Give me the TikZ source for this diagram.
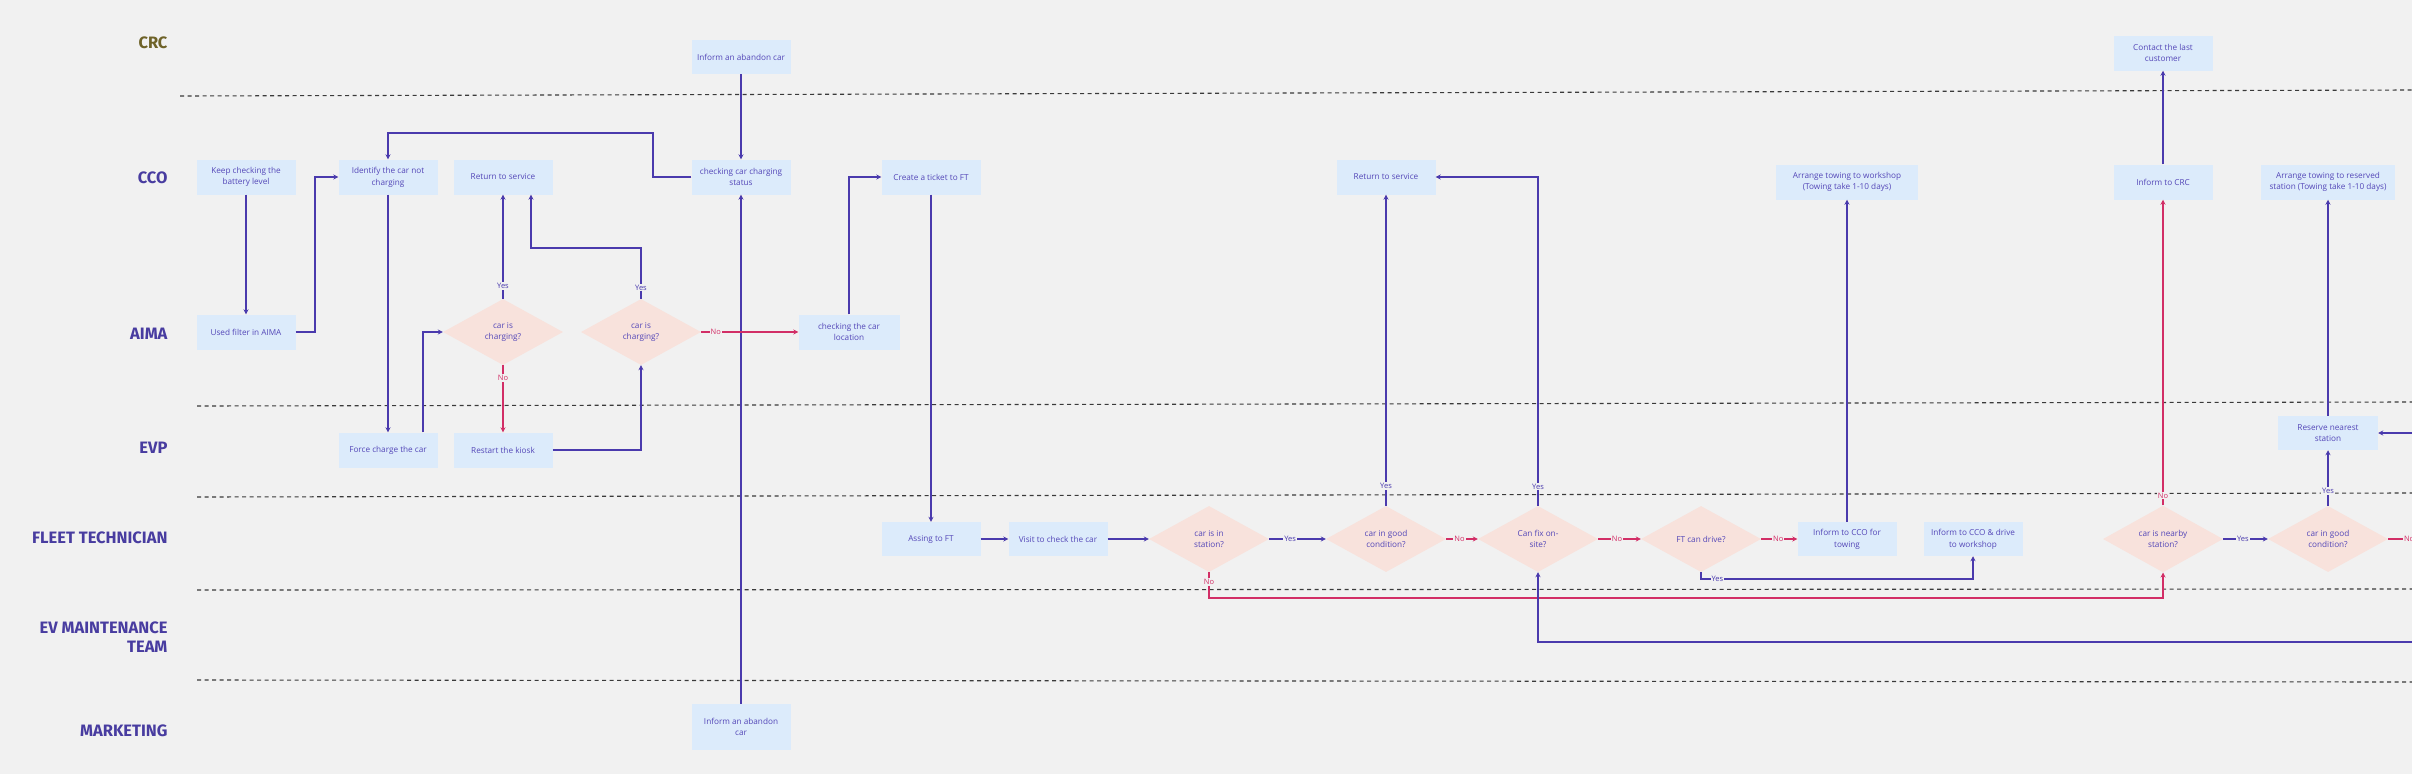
\documentclass[tikz,border=0pt]{standalone}
\usepackage{fontspec}
\setmainfont{Open Sans}
\newfontfamily\lanefont{Fira Sans}
\usetikzlibrary{shapes.geometric,arrows.meta}
\definecolor{bgc}{HTML}{F1F1F1}
\definecolor{boxfill}{HTML}{DCEBFB}
\definecolor{diafill}{HTML}{F8E2DC}
\definecolor{txtc}{HTML}{5447B8}
\definecolor{lc}{HTML}{4A3AAD}
\definecolor{rc}{HTML}{D22E66}
\definecolor{lanec}{HTML}{483CA0}
\definecolor{crcc}{HTML}{6E6228}
\definecolor{dashc}{HTML}{3A3A3A}
\newcommand\bxfont{\fontsize{8.2}{11.7}\selectfont}
\newcommand\edgefont{\fontsize{7.5}{8.5}\selectfont}
\begin{document}
\begin{tikzpicture}[x=1pt,y=-1pt,
  box/.style={fill=boxfill, text=txtc, align=center, inner sep=0pt, minimum width=99pt, minimum height=35pt, font=\bxfont},
  dia/.style={shape=diamond, fill=diafill, text=txtc, align=center, inner sep=0pt, minimum width=120pt, minimum height=66pt, font=\bxfont},
  arr/.style={draw=lc, line width=1.3pt, -{Stealth[length=5pt,width=5pt]}},
  tharr/.style={arr, line width=1.8pt},
  rarr/.style={arr, draw=rc},
  lbl/.style={fill=bgc, inner sep=1pt, text=lc, font=\edgefont},
  rlbl/.style={lbl, text=rc},
  lane/.style={anchor=east, text=lanec, font=\lanefont\bfseries\fontsize{16.5}{19}\selectfont, align=right},
  lanesep/.style={draw=dashc, line width=1.1pt, dash pattern=on 4pt off 3.5pt}]
\fill[bgc] (0,0) rectangle (2412,774);
\useasboundingbox (0,0) rectangle (2412,774);

% lane separators
\draw[lanesep] (180,96) -- (2412,90);
\draw[lanesep] (197,406) -- (2412,402);
\draw[lanesep] (197,497) -- (2412,493);
\draw[lanesep] (197,590) -- (2412,589);
\draw[lanesep] (197,680) -- (2412,682);

% lane labels
\node[lane, text=crcc] (lcrc) at (171,43) {CRC};
\node[lane] (lcco) at (171,178) {CCO};
\node[lane] (laima) at (171,334) {AIMA};
\node[lane] (levp) at (171,448) {EVP};
\node[lane] (lft) at (171,538) {FLEET TECHNICIAN};
\node[lane] (lev) at (171,637) {EV MAINTENANCE\\TEAM};
\node[lane] (lmkt) at (171,731) {MARKETING};

% nodes
\node[box, minimum height=34pt] (crcinf) at (741,57) {Inform an abandon car};
\node[box] (keep) at (246,177) {Keep checking the\\battery level};
\node[box] (ident) at (388,177) {Identify the car not\\charging};
\node[box] (ret1) at (503,177) {Return to service};
\node[box] (chkst) at (741,177) {checking car charging\\status};
\node[box] (used) at (246,332) {Used filter in AIMA};
\node[dia] (d1) at (503,332) {car is\\charging?};
\node[dia] (d2) at (641,332) {car is\\charging?};
\node[box] (force) at (388,450) {Force charge the car};
\node[box] (restart) at (503,450) {Restart the kiosk};
\node[box, minimum width=101pt] (loc) at (849,332) {checking the car\\location};
\node[box] (create) at (931,177) {Create a ticket to FT};
\node[box] (ret2) at (1386,177) {Return to service};
\node[box, minimum height=34pt] (assign) at (931,539) {Assing to FT};
\node[box, minimum height=34pt] (visit) at (1058,539) {Visit to check the car};
\node[dia] (dst) at (1209,539) {car is in\\station?};
\node[dia] (dgood) at (1386,539) {car in good\\condition?};
\node[dia] (dfix) at (1538,539) {Can fix on-\\site?};
\node[dia] (ddrive) at (1701,539) {FT can drive?};
\node[box, minimum height=34pt] (tow) at (1847,539) {Inform to CCO for\\towing};
\node[box, minimum height=34pt] (drive) at (1973,539) {Inform to CCO \& drive\\to workshop};
\node[box, minimum width=142pt] (arrw) at (1847,182) {Arrange towing to workshop\\(Towing take 1-10 days)};
\node[box] (contact) at (2163,53) {Contact the last\\customer};
\node[box] (infcrc) at (2163,182) {Inform to CRC};
\node[dia] (dnear) at (2163,539) {car is nearby\\station?};
\node[dia] (dgood2) at (2328,539) {car in good\\condition?};
\node[box, minimum width=100pt, minimum height=34pt] (reserve) at (2328,433) {Reserve nearest\\station};
\node[box, minimum width=134pt] (arrr) at (2328,182) {Arrange towing to reserved\\station (Towing take 1-10 days)};
\node[box, minimum height=46pt] (mkt) at (741,727) {Inform an abandon\\car};

\coordinate (rin) at (2412,433);
\coordinate (fixin) at (2412,642);
\coordinate (good2out) at (2430,539);

% connectors
\draw[arr] (crcinf.south) -- (chkst.north);
\draw[arr] (mkt.north) -- (chkst.south);
\draw[arr] (keep.south) -- (used.north);
\draw[arr] (used.east) -- (315,332) |- (ident.west);
\draw[arr] (chkst.west) -- (653,177) -- (653,133) -| (ident.north);
\draw[arr] (ident.south) -- (force.north);
\draw[arr] ([xshift=35pt]force.north) |- (d1.west);
\draw[arr] (d1.north) -- node[lbl,pos=0.125]{Yes} (ret1.south);
\draw[rarr] (d1.south) -- node[rlbl,pos=0.19]{No} (restart.north);
\draw[arr] (restart.east) -| (d2.south);
\draw[arr] (d2.north) -- node[lbl,pos=0.22]{Yes} (641,248) -| ([xshift=28pt]ret1.south);
\draw[rarr] (d2.east) -- node[rlbl,pos=0.15]{No} (loc.west);
\draw[arr] (loc.north) |- (create.west);
\draw[arr] (create.south) -- (assign.north);
\draw[tharr] (assign.east) -- (visit.west);
\draw[tharr] (visit.east) -- (dst.west);
\draw[tharr] (dst.east) -- node[lbl,pos=0.37]{Yes} (dgood.west);
\draw[arr] (dgood.north) -- node[lbl,pos=0.064]{Yes} (ret2.south);
\draw[tharr, draw=rc] (dgood.east) -- node[rlbl,pos=0.42]{No} (dfix.west);
\draw[arr] (dfix.north) -- node[lbl,pos=0.058]{Yes} (1538,177) -- (ret2.east);
\draw[tharr, draw=rc] (dfix.east) -- node[rlbl,pos=0.44]{No} (ddrive.west);
\draw[tharr, draw=rc] (ddrive.east) -- node[rlbl,pos=0.47]{No} (tow.west);
\draw[arr] (ddrive.south) -- (1701,579) -- node[lbl,pos=0.06]{Yes} (1973,579) -- (drive.south);
\draw[arr] (tow.north) -- (arrw.south);
\draw[rarr] (dst.south) -- node[rlbl,pos=0.38]{No} (1209,598) -| (dnear.south);
\draw[rarr] (dnear.north) -- node[rlbl,pos=0.033]{No} (infcrc.south);
\draw[arr] (infcrc.north) -- (contact.south);
\draw[tharr] (dnear.east) -- node[lbl,pos=0.44]{Yes} (dgood2.west);
\draw[arr] (dgood2.north) -- node[lbl,pos=0.27]{Yes} (reserve.south);
\draw[arr] (reserve.north) -- (arrr.south);
\draw[arr] (rin) -- (reserve.east);
\draw[arr] (fixin) -| (dfix.south);
\draw[draw=rc, line width=1.8pt] (dgood2.east) -- node[rlbl,pos=0.5]{No} (good2out);
\end{tikzpicture}
\end{document}
